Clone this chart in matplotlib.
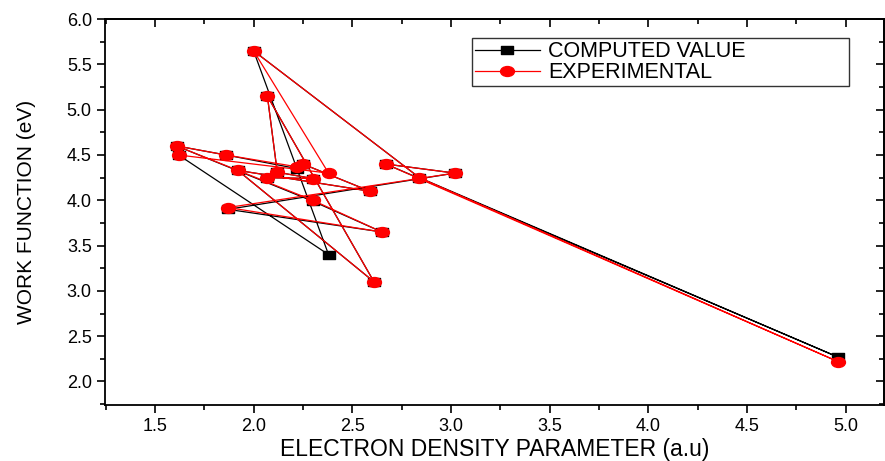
import matplotlib
matplotlib.use("Agg")
import matplotlib.pyplot as plt
import numpy as np
from matplotlib.path import Path
from matplotlib.ticker import MultipleLocator, FormatStrFormatter

plt.rcParams['font.family'] = ['Liberation Sans', 'DejaVu Sans']

# electron density parameter (same for both series), in table order
rs = [1.62, 2.38, 2.00, 2.84, 4.96, 2.67, 3.02, 1.87, 2.65, 2.30, 1.61,
      1.86, 2.22, 2.25, 2.59, 1.92, 2.61, 2.07, 2.12, 2.30, 2.07]
# work function (eV)
wf_computed = [4.50, 3.40, 5.65, 4.25, 2.27, 4.40, 4.30, 3.90, 3.65, 3.99, 4.60,
               4.50, 4.35, 4.40, 4.10, 4.33, 3.10, 5.15, 4.31, 4.24, 4.25]
wf_experimental = [4.50, 4.30, 5.65, 4.25, 2.22, 4.40, 4.30, 3.92, 3.65, 4.00, 4.60,
                   4.50, 4.37, 4.40, 4.10, 4.33, 3.10, 5.15, 4.31, 4.24, 4.25]

# squashed marker shapes (the original image is stretched sideways)
circ = Path.unit_circle()
ellipse = Path(circ.vertices * [1.4, 1.0], circ.codes)
rect = Path([(-0.7, -0.5), (0.7, -0.5), (0.7, 0.5), (-0.7, 0.5), (-0.7, -0.5)],
            [Path.MOVETO, Path.LINETO, Path.LINETO, Path.LINETO, Path.CLOSEPOLY])

fig = plt.figure(figsize=(8.85, 4.61), dpi=100)
ax = fig.add_axes([0.1186, 0.1215, 0.880, 0.837])

ax.plot(rs, wf_computed, color='black', lw=0.9, marker=rect, ms=9,
        label='COMPUTED VALUE')
ax.plot(rs, wf_experimental, color='red', lw=0.9, marker=ellipse, ms=10,
        label='EXPERIMENTAL')

ax.set_xlim(1.247, 5.193)
ax.set_ylim(1.74, 6.0)
ax.xaxis.set_major_locator(MultipleLocator(0.5))
ax.xaxis.set_minor_locator(MultipleLocator(0.25))
ax.yaxis.set_major_locator(MultipleLocator(0.5))
ax.yaxis.set_minor_locator(MultipleLocator(0.25))
ax.xaxis.set_major_formatter(FormatStrFormatter('%.1f'))
ax.yaxis.set_major_formatter(FormatStrFormatter('%.1f'))

ax.tick_params(which='both', direction='out', width=1.2, labelsize=13)
ax.tick_params(which='major', length=6)
ax.tick_params(which='minor', length=3.5)
# mirrored ticks on top and right pointing inwards
secx = ax.secondary_xaxis('top')
secx.xaxis.set_major_locator(MultipleLocator(0.5))
secx.xaxis.set_minor_locator(MultipleLocator(0.25))
secx.tick_params(which='both', direction='in', width=1.2, labeltop=False)
secx.tick_params(which='major', length=6)
secx.tick_params(which='minor', length=3.5)
secy = ax.secondary_yaxis('right')
secy.yaxis.set_major_locator(MultipleLocator(0.5))
secy.yaxis.set_minor_locator(MultipleLocator(0.25))
secy.tick_params(which='both', direction='in', width=1.2, labelright=False)
secy.tick_params(which='major', length=6)
secy.tick_params(which='minor', length=3.5)
for sp in ax.spines.values():
    sp.set_linewidth(1.3)
secx.spines['top'].set_linewidth(1.3)
secy.spines['right'].set_linewidth(1.3)

ax.set_xlabel('ELECTRON DENSITY PARAMETER (a.u)', fontsize=16.5, labelpad=2)
ax.set_ylabel('WORK FUNCTION (eV)', fontsize=15, labelpad=22)

leg = ax.legend(loc='upper left', bbox_to_anchor=(0.471, 0.831, 0.485, 0.12),
                mode='expand', fontsize=15.5, frameon=True, fancybox=False,
                edgecolor='black', handlelength=3.0, borderpad=0.15,
                labelspacing=0.0, handletextpad=0.4, borderaxespad=0)
leg.get_frame().set_linewidth(1.0)

fig.savefig('out.png', dpi=100)
